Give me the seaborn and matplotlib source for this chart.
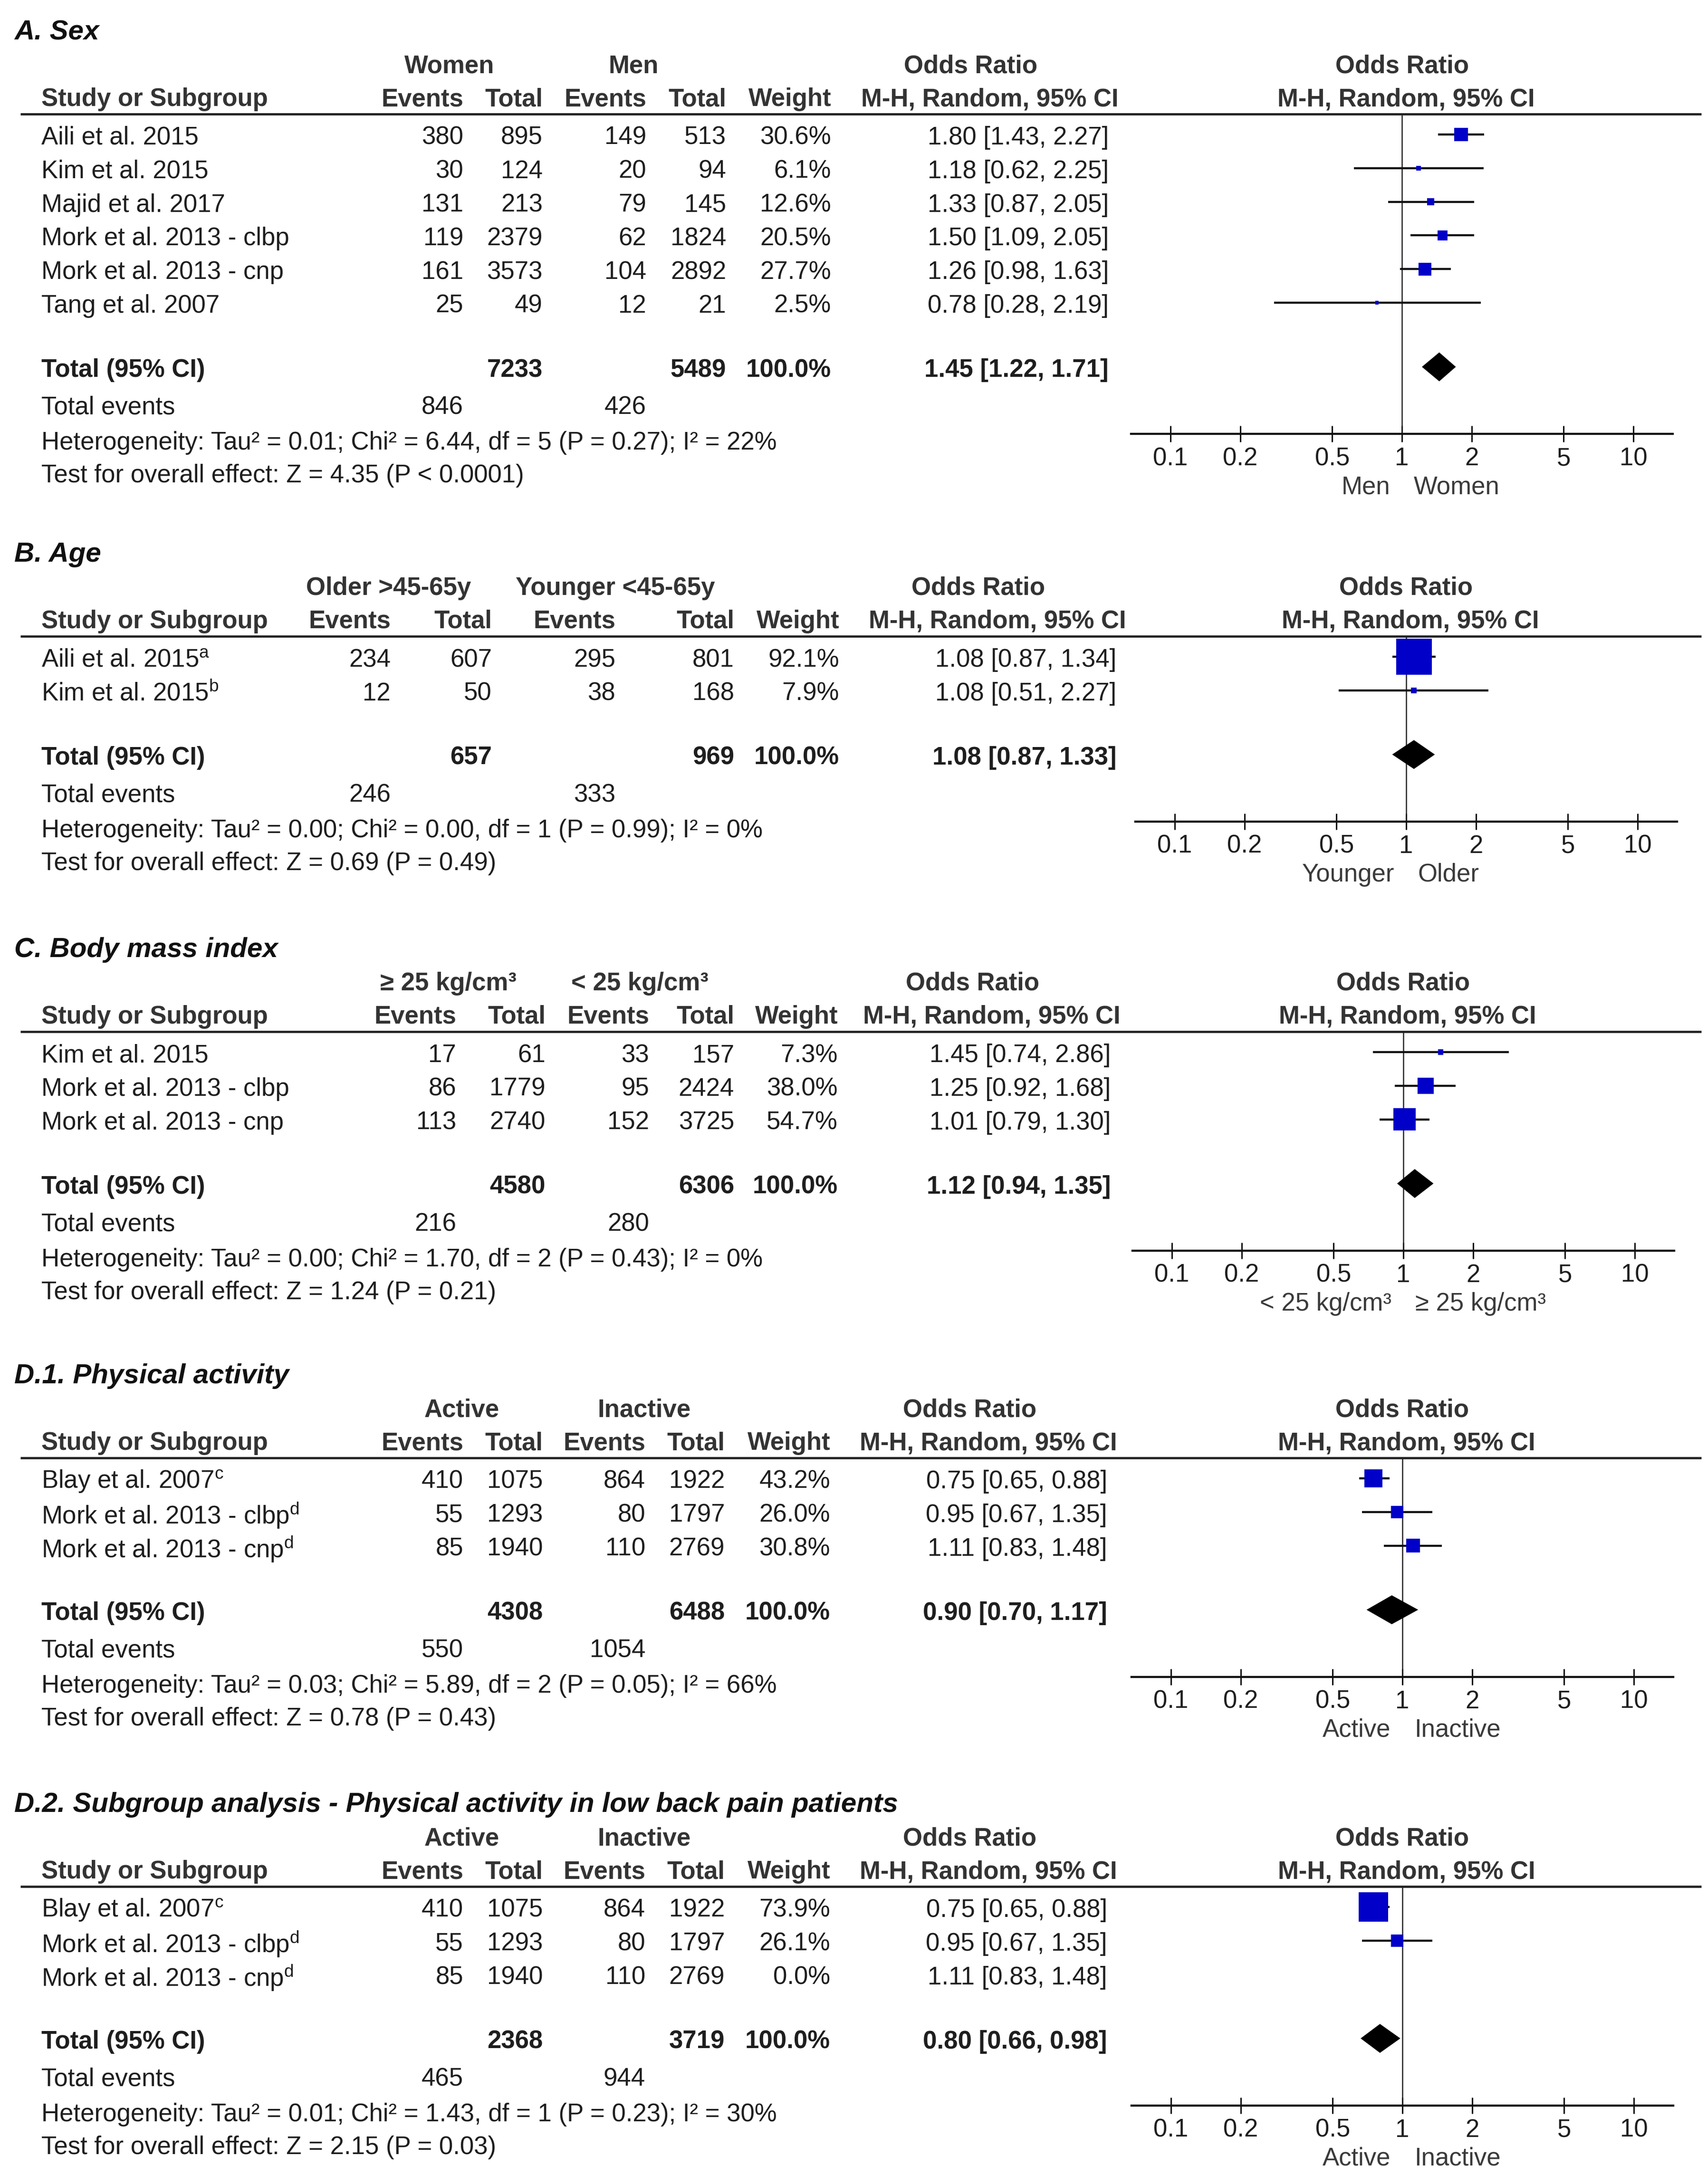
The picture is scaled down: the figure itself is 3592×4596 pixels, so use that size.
import matplotlib
matplotlib.use("Agg")
import matplotlib.pyplot as plt
from matplotlib.ticker import NullLocator
import seaborn as sns
import numpy as np

# ---------------- data ----------------
sex_studies = ["Aili et al. 2015", "Kim et al. 2015", "Majid et al. 2017",
               "Mork et al. 2013 - clbp", "Mork et al. 2013 - cnp", "Tang et al. 2007"]
sex_ev1 = [380, 30, 131, 119, 161, 25]
sex_tot1 = [895, 124, 213, 2379, 3573, 49]
sex_ev2 = [149, 20, 79, 62, 104, 12]
sex_tot2 = [513, 94, 145, 1824, 2892, 21]
sex_weight = [30.6, 6.1, 12.6, 20.5, 27.7, 2.5]
sex_or = [1.80, 1.18, 1.33, 1.50, 1.26, 0.78]
sex_lo = [1.43, 0.62, 0.87, 1.09, 0.98, 0.28]
sex_hi = [2.27, 2.25, 2.05, 2.05, 1.63, 2.19]
sex_totals = [7233, 5489]
sex_events = [846, 426]
sex_pooled = [1.45, 1.22, 1.71]
sex_het = "Heterogeneity: Tau² = 0.01; Chi² = 6.44, df = 5 (P = 0.27); I² = 22%"
sex_test = "Test for overall effect: Z = 4.35 (P < 0.0001)"
sex_groups = ["Women", "Men"]
sex_sides = ["Men", "Women"]

age_studies = ["Aili et al. 2015$^{\\mathrm{a}}$", "Kim et al. 2015$^{\\mathrm{b}}$"]
age_ev1 = [234, 12]
age_tot1 = [607, 50]
age_ev2 = [295, 38]
age_tot2 = [801, 168]
age_weight = [92.1, 7.9]
age_or = [1.08, 1.08]
age_lo = [0.87, 0.51]
age_hi = [1.34, 2.27]
age_totals = [657, 969]
age_events = [246, 333]
age_pooled = [1.08, 0.87, 1.33]
age_het = "Heterogeneity: Tau² = 0.00; Chi² = 0.00, df = 1 (P = 0.99); I² = 0%"
age_test = "Test for overall effect: Z = 0.69 (P = 0.49)"
age_groups = ["Older >45-65y", "Younger <45-65y"]
age_sides = ["Younger", "Older"]

bmi_studies = ["Kim et al. 2015", "Mork et al. 2013 - clbp", "Mork et al. 2013 - cnp"]
bmi_ev1 = [17, 86, 113]
bmi_tot1 = [61, 1779, 2740]
bmi_ev2 = [33, 95, 152]
bmi_tot2 = [157, 2424, 3725]
bmi_weight = [7.3, 38.0, 54.7]
bmi_or = [1.45, 1.25, 1.01]
bmi_lo = [0.74, 0.92, 0.79]
bmi_hi = [2.86, 1.68, 1.30]
bmi_totals = [4580, 6306]
bmi_events = [216, 280]
bmi_pooled = [1.12, 0.94, 1.35]
bmi_het = "Heterogeneity: Tau² = 0.00; Chi² = 1.70, df = 2 (P = 0.43); I² = 0%"
bmi_test = "Test for overall effect: Z = 1.24 (P = 0.21)"
bmi_groups = ["≥ 25 kg/cm³", "< 25 kg/cm³"]
bmi_sides = ["< 25 kg/cm³", "≥ 25 kg/cm³"]

pa_studies = ["Blay et al. 2007$^{\\mathrm{c}}$", "Mork et al. 2013 - clbp$^{\\mathrm{d}}$",
              "Mork et al. 2013 - cnp$^{\\mathrm{d}}$"]
pa_ev1 = [410, 55, 85]
pa_tot1 = [1075, 1293, 1940]
pa_ev2 = [864, 80, 110]
pa_tot2 = [1922, 1797, 2769]
pa_weight = [43.2, 26.0, 30.8]
pa_or = [0.75, 0.95, 1.11]
pa_lo = [0.65, 0.67, 0.83]
pa_hi = [0.88, 1.35, 1.48]
pa_totals = [4308, 6488]
pa_events = [550, 1054]
pa_pooled = [0.90, 0.70, 1.17]
pa_het = "Heterogeneity: Tau² = 0.03; Chi² = 5.89, df = 2 (P = 0.05); I² = 66%"
pa_test = "Test for overall effect: Z = 0.78 (P = 0.43)"
pa_groups = ["Active", "Inactive"]
pa_sides = ["Active", "Inactive"]

lbp_studies = pa_studies
lbp_ev1 = [410, 55, 85]
lbp_tot1 = [1075, 1293, 1940]
lbp_ev2 = [864, 80, 110]
lbp_tot2 = [1922, 1797, 2769]
lbp_weight = [73.9, 26.1, 0.0]
lbp_or = [0.75, 0.95, 1.11]
lbp_lo = [0.65, 0.67, 0.83]
lbp_hi = [0.88, 1.35, 1.48]
lbp_totals = [2368, 3719]
lbp_events = [465, 944]
lbp_pooled = [0.80, 0.66, 0.98]
lbp_het = "Heterogeneity: Tau² = 0.01; Chi² = 1.43, df = 1 (P = 0.23); I² = 30%"
lbp_test = "Test for overall effect: Z = 2.15 (P = 0.03)"
lbp_groups = ["Active", "Inactive"]
lbp_sides = ["Active", "Inactive"]

or_ticks = [0.1, 0.2, 0.5, 1, 2, 5, 10]
or_tick_labels = ["0.1", "0.2", "0.5", "1", "2", "5", "10"]

# ---------------- style ----------------
sns.set_theme(style="white")
plt.rcParams["font.family"] = ["Liberation Sans", "DejaVu Sans"]
plt.rcParams["mathtext.fontset"] = "custom"
plt.rcParams["mathtext.rm"] = "Liberation Sans"
plt.rcParams["mathtext.it"] = "Liberation Sans:italic"
plt.rcParams["mathtext.bf"] = "Liberation Sans:bold"

W, H = 3592, 4596
FS = 38
FS_TITLE = 42
TXT = "#1e1e1e"
HDR = "#333333"
BLUE = "#0000c8"
PITCH = 70.8

fig = plt.figure(figsize=(W / 100, H / 100), dpi=100)
canvas = fig.add_axes([0, 0, 1, 1])
canvas.set_xlim(0, W)
canvas.set_ylim(H, 0)
canvas.axis("off")


def txt(x, y, s, ha="right", bold=False, color=TXT, size=FS, **kw):
    canvas.text(x, y, s, ha=ha, va="center", fontsize=size,
                fontweight="bold" if bold else "normal", color=color, **kw)


def draw_panel(title, studies, ev1, tot1, ev2, tot2, weight, orv, lo, hi,
               totals, events, pooled, het, test, groups, sides, lay):
    line_y = lay["line"]
    cols = lay["cols"]
    n = len(studies)
    row1 = line_y + 50
    total_y = row1 + (n - 1) * PITCH + 135
    axis_y = total_y + 134

    # titles and headers
    txt(30, line_y - 172, title, ha="left", bold=True, style="italic",
        color="#111111", size=FS_TITLE)
    h1, h2 = line_y - 101, line_y - 31
    txt(lay["groups"][0], h1, groups[0], ha="center", bold=True, color=HDR)
    txt(lay["groups"][1], h1, groups[1], ha="center", bold=True, color=HDR)
    txt(lay["or_right"] - 290, h1, "Odds Ratio", ha="center", bold=True, color=HDR)
    txt(lay["x1"], h1, "Odds Ratio", ha="center", bold=True, color=HDR)
    txt(87, h2, "Study or Subgroup", ha="left", bold=True, color=HDR)
    for x, s in zip(cols, ["Events", "Total", "Events", "Total", "Weight"]):
        txt(x, h2, s, bold=True, color=HDR)
    txt(lay["or_right"] - 250, h2, "M-H, Random, 95% CI", ha="center", bold=True, color=HDR)
    txt(lay["x1"] + 9, h2, "M-H, Random, 95% CI", ha="center", bold=True, color=HDR)
    canvas.plot([43, 3580], [line_y, line_y], color="#222222", lw=3.4, solid_capstyle="butt")

    # study rows
    for i in range(n):
        y = row1 + i * PITCH
        txt(87, y, studies[i], ha="left")
        for x, v in zip(cols, [ev1[i], tot1[i], ev2[i], tot2[i]]):
            txt(x, y, str(v))
        txt(cols[4], y, f"{weight[i]:.1f}%")
        txt(lay["or_right"], y, f"{orv[i]:.2f} [{lo[i]:.2f}, {hi[i]:.2f}]")

    # totals
    txt(87, total_y, "Total (95% CI)", ha="left", bold=True)
    txt(cols[1], total_y, str(totals[0]), bold=True)
    txt(cols[3], total_y, str(totals[1]), bold=True)
    txt(cols[4], total_y, "100.0%", bold=True)
    txt(lay["or_right"], total_y, f"{pooled[0]:.2f} [{pooled[1]:.2f}, {pooled[2]:.2f}]", bold=True)
    txt(87, total_y + 79, "Total events", ha="left")
    txt(cols[0], total_y + 79, str(events[0]))
    txt(cols[2], total_y + 79, str(events[1]))
    txt(87, total_y + 153, het, ha="left")
    txt(87, total_y + 222, test, ha="left")

    # forest plot
    x1, dec, half, shift = lay["x1"], 487, 1.17, 7
    left = x1 - half * dec
    ax = fig.add_axes([left / W, 1 - axis_y / H, 2 * half * dec / W, (axis_y - line_y) / H])
    ax.set_xscale("log")
    ax.set_xlim(10 ** -half, 10 ** half)
    ax.set_ylim((axis_y - row1 + shift) / PITCH, (line_y - row1 + shift) / PITCH)
    ax.patch.set_alpha(0)

    rows = np.arange(n)
    w = np.array(weight)
    keep = w > 0
    ax.axvline(1, color="#222222", lw=1.8, zorder=1)
    ax.hlines(rows[keep], np.array(lo)[keep], np.array(hi)[keep], color="#111111", lw=3.2, zorder=2)
    side_pt = (6 + 0.75 * w[keep]) * 0.72
    sns.scatterplot(x=np.array(orv)[keep], y=rows[keep], marker="s", s=side_pt ** 2,
                    color=BLUE, linewidth=0, legend=False, ax=ax, zorder=3)
    t = (n - 1) + 135 / PITCH
    p, plo, phi = pooled
    ax.fill([plo, p, phi, p], [t, t - 0.43, t, t + 0.43], color="black", lw=0, zorder=3)

    ax.set_xticks(or_ticks)
    ax.set_xticklabels(or_tick_labels)
    ax.xaxis.set_minor_locator(NullLocator())
    ax.set_yticks([])
    ax.set_xlabel("")
    ax.set_ylabel("")
    ax.tick_params(axis="x", which="major", direction="inout", length=25, width=2.2,
                   pad=7, labelsize=FS, color="#111111", labelcolor=TXT, bottom=True)
    for sp in ["top", "left", "right"]:
        ax.spines[sp].set_visible(False)
    ax.spines["bottom"].set_linewidth(3.2)
    ax.spines["bottom"].set_color("#111111")

    txt(x1 - 25, axis_y + 112, sides[0], color="#3a3a3a")
    txt(x1 + 25, axis_y + 112, sides[1], ha="left", color="#3a3a3a")


lay_a = dict(line=240, cols=[975, 1142, 1360, 1528, 1749], groups=[946, 1333], or_right=2333, x1=2950)
lay_b = dict(line=1339, cols=[822, 1035, 1295, 1545, 1766], groups=[818, 1295], or_right=2349, x1=2959)
lay_c = dict(line=2171, cols=[960, 1148, 1366, 1545, 1763], groups=[943, 1346], or_right=2337, x1=2953)
lay_d1 = dict(line=3068, cols=[975, 1142, 1358, 1525, 1747], groups=[972, 1356], or_right=2330, x1=2951)
lay_d2 = dict(line=3970, cols=[975, 1142, 1358, 1525, 1747], groups=[972, 1356], or_right=2330, x1=2951)

draw_panel("A. Sex", sex_studies, sex_ev1, sex_tot1, sex_ev2, sex_tot2, sex_weight,
           sex_or, sex_lo, sex_hi, sex_totals, sex_events, sex_pooled, sex_het, sex_test,
           sex_groups, sex_sides, lay_a)
draw_panel("B. Age", age_studies, age_ev1, age_tot1, age_ev2, age_tot2, age_weight,
           age_or, age_lo, age_hi, age_totals, age_events, age_pooled, age_het, age_test,
           age_groups, age_sides, lay_b)
draw_panel("C. Body mass index", bmi_studies, bmi_ev1, bmi_tot1, bmi_ev2, bmi_tot2, bmi_weight,
           bmi_or, bmi_lo, bmi_hi, bmi_totals, bmi_events, bmi_pooled, bmi_het, bmi_test,
           bmi_groups, bmi_sides, lay_c)
draw_panel("D.1. Physical activity", pa_studies, pa_ev1, pa_tot1, pa_ev2, pa_tot2, pa_weight,
           pa_or, pa_lo, pa_hi, pa_totals, pa_events, pa_pooled, pa_het, pa_test,
           pa_groups, pa_sides, lay_d1)
draw_panel("D.2. Subgroup analysis - Physical activity in low back pain patients", lbp_studies,
           lbp_ev1, lbp_tot1, lbp_ev2, lbp_tot2, lbp_weight, lbp_or, lbp_lo, lbp_hi,
           lbp_totals, lbp_events, lbp_pooled, lbp_het, lbp_test, lbp_groups, lbp_sides, lay_d2)

fig.savefig("out.png", dpi=100, facecolor="white")
